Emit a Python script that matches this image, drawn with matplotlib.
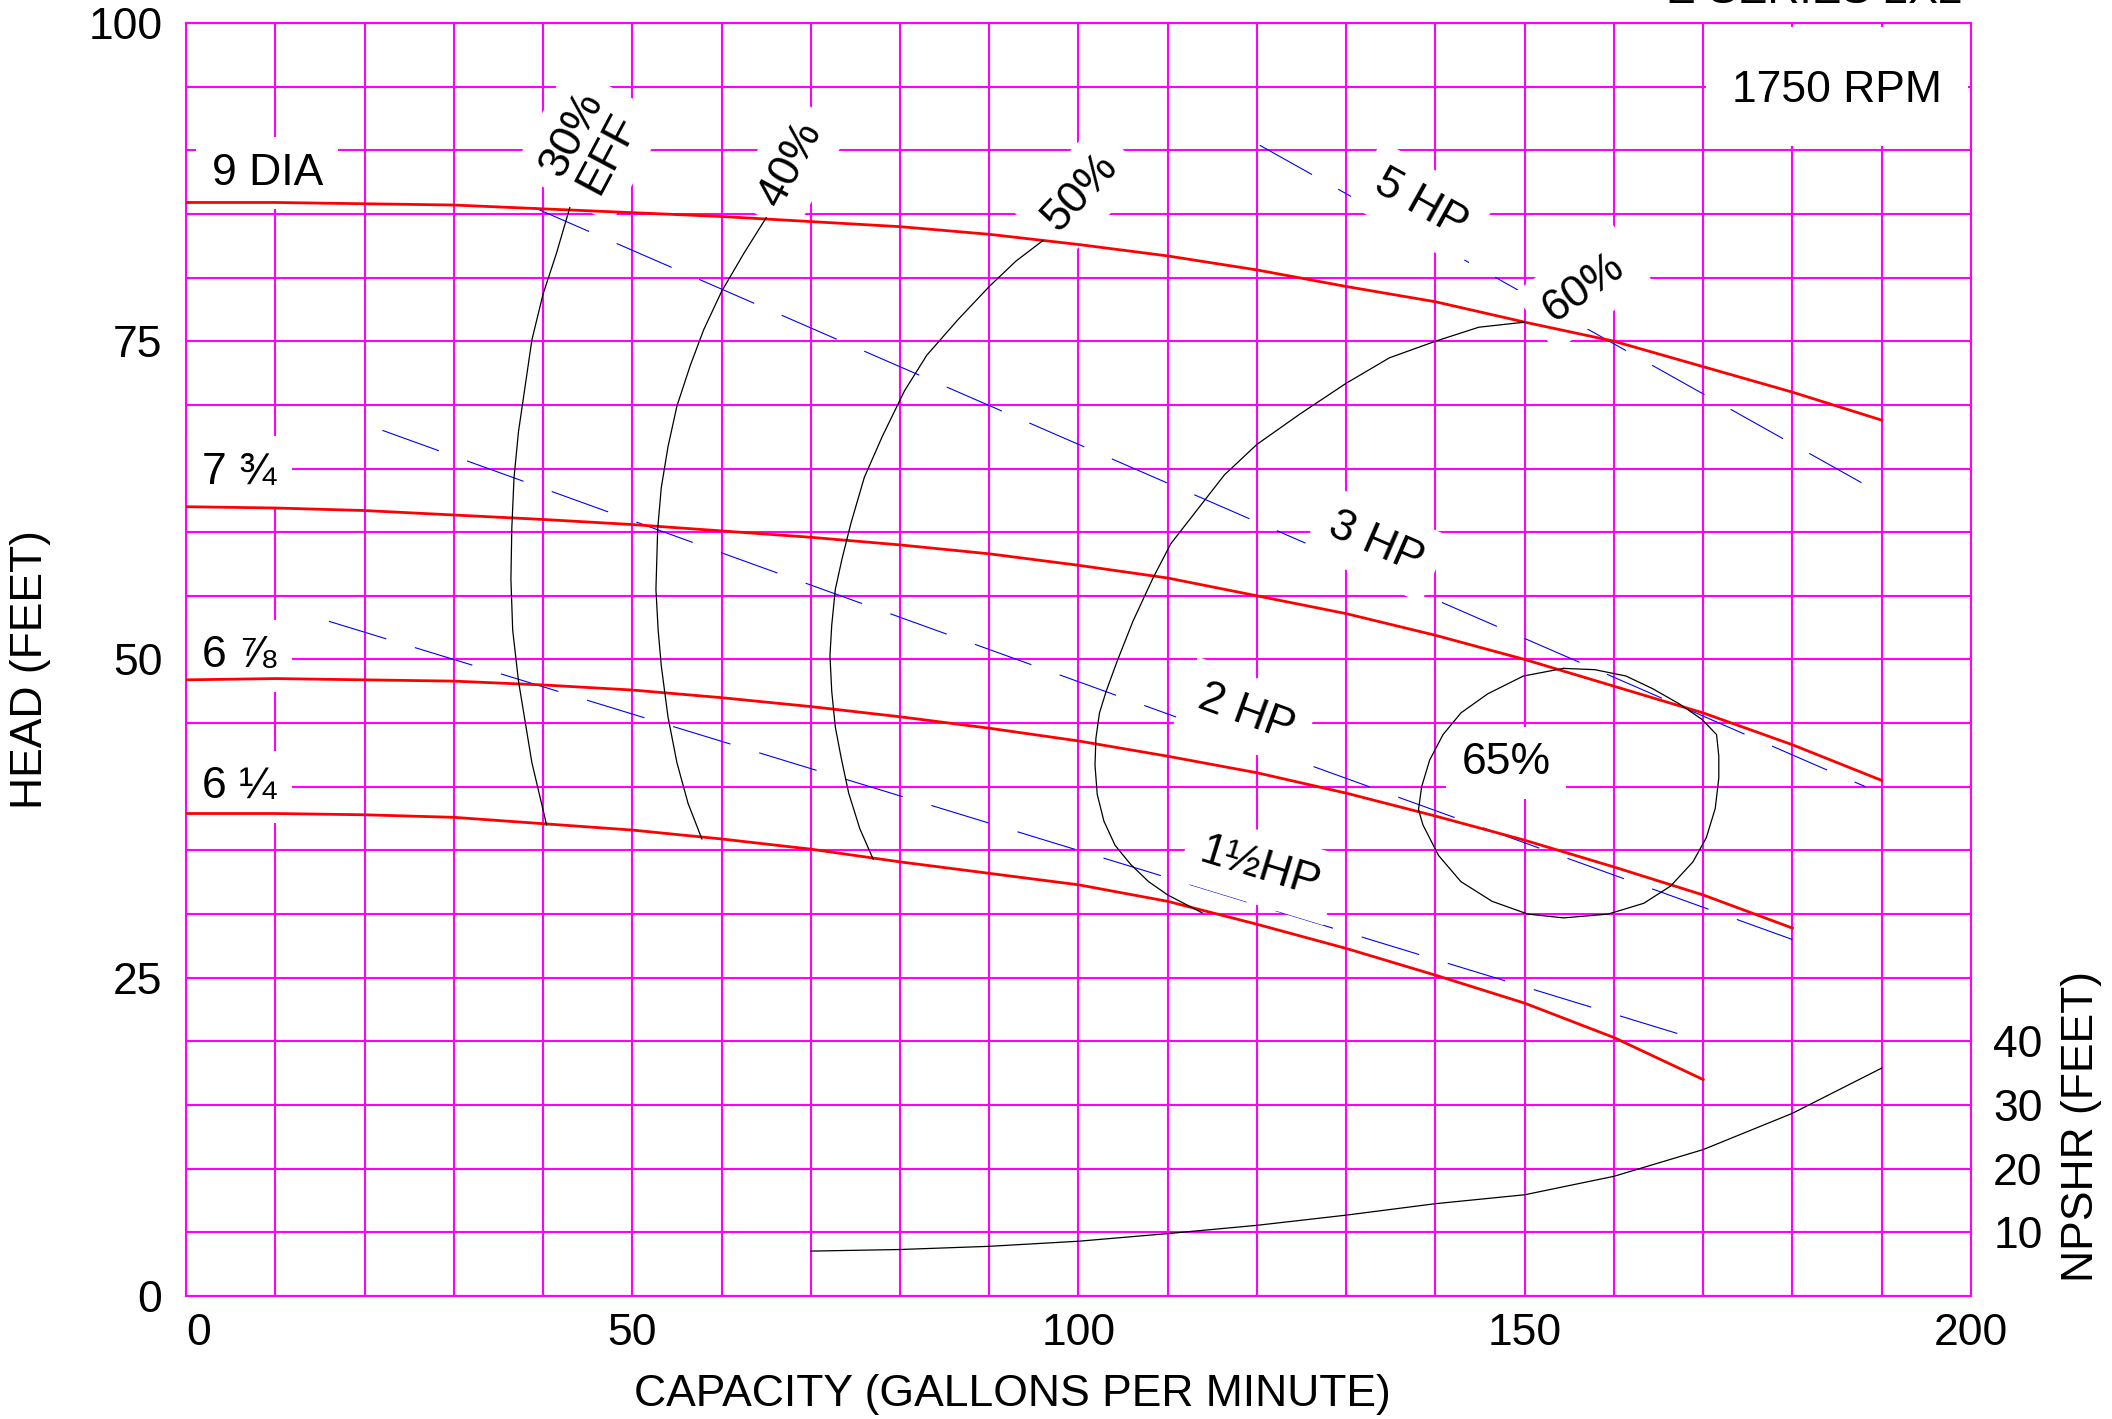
import matplotlib.pyplot as plt
from matplotlib.patches import Rectangle

plt.rcParams['font.family'] = ['Liberation Sans', 'DejaVu Sans']

MAGENTA = '#ff00ff'
FS = 32

# head-capacity curves for each impeller diameter
gpm = [0, 10, 20, 30, 40, 50, 60, 70, 80, 90, 100, 110, 120, 130, 140, 150, 160, 170, 180, 190]
head_9 = [85.9, 85.9, 85.8, 85.7, 85.4, 85.1, 84.8, 84.4, 84.0, 83.4, 82.6, 81.7, 80.6, 79.3,
          78.1, 76.5, 75.0, 73.0, 71.0, 68.8]
head_7_3q = [62.0, 61.9, 61.7, 61.35, 61.0, 60.6, 60.1, 59.6, 59.0, 58.3, 57.4, 56.4, 55.0,
             53.6, 51.9, 50.0, 47.9, 45.8, 43.3, 40.5]
head_6_7e = [48.4, 48.5, 48.4, 48.3, 48.0, 47.6, 47.0, 46.3, 45.5, 44.6, 43.6, 42.4, 41.1,
             39.5, 37.7, 35.8, 33.7, 31.5, 28.9]
head_6_1q = [37.9, 37.9, 37.8, 37.6, 37.1, 36.6, 35.9, 35.1, 34.1, 33.2, 32.3, 31.0, 29.2,
             27.3, 25.2, 23.0, 20.3, 17.0]

# constant horsepower lines (start and end points)
hp5_x, hp5_y = [120.3, 190], [90.4, 63.0]
hp3_x, hp3_y = [39, 188.2], [85.5, 40.0]
hp2_x, hp2_y = [22, 180], [68.0, 28.0]
hp1h_x, hp1h_y = [16, 170], [53.0, 20.0]

# efficiency contours
eff30_x = [43, 41.5, 40, 38.75, 38, 37.25, 36.75, 36.5, 36.4, 36.6, 37.25, 38, 38.75, 40.4]
eff30_y = [85.5, 81.9, 78.7, 75.1, 71.5, 67.9, 64.3, 60.3, 56.3, 52.3, 48.3, 45.1, 41.9, 37.0]
eff40_x = [65, 62.5, 60, 58, 56.5, 55, 54, 53.25, 52.85, 52.65, 52.9, 53.25, 54, 55, 56.25, 57.8]
eff40_y = [84.7, 81.9, 78.9, 75.9, 73.1, 69.9, 66.7, 63.5, 60.3, 55.5, 52.3, 49.5, 45.5, 41.9,
           38.7, 35.9]
eff50_x = [96, 93, 90, 86.5, 83, 80.5, 78, 76, 74.5, 73.5, 72.75, 72.35, 72.15, 72.35, 72.75,
           73.4, 74.25, 75.5, 77]
eff50_y = [82.9, 81.3, 79.3, 76.7, 73.9, 71.1, 67.5, 64.3, 60.7, 57.9, 55.5, 52.7, 50.3, 47.5,
           44.7, 42.3, 39.5, 36.7, 34.3]
eff60_x = [150, 144.85, 140, 134.85, 130, 124.85, 120, 116.35, 113.35, 110.35, 108.35, 106.1,
           104.35, 103.1, 102.35, 101.95, 101.85, 102.1, 102.85, 104.1, 105.85, 107.85, 110,
           113.85]
eff60_y = [76.5, 76.1, 75.0, 73.7, 71.7, 69.3, 66.9, 64.5, 61.8, 59.1, 56.4, 53.0, 49.9, 47.5,
           45.8, 43.8, 41.7, 39.4, 37.3, 35.4, 33.9, 32.55, 31.5, 30.1]
eff65_x = [154.35, 157.85, 161.35, 164.35, 167.35, 169.85, 171.5, 171.75, 171.75, 171.35,
           170.35, 168.85, 166.35, 163.35, 159.35, 154.35, 150.35, 146.35, 142.85, 140.35,
           138.6, 138.1, 138.45, 139.35, 140.85, 142.85, 145.85, 149.85, 154.35]
eff65_y = [49.3, 49.2, 48.7, 47.7, 46.5, 45.3, 44.1, 42.4, 40.7, 38.3, 36.0, 34.1, 32.2,
           30.85, 30.0, 29.7, 30.0, 31.0, 32.55, 34.6, 37.0, 38.2, 40.0, 42.1, 44.1, 45.8,
           47.3, 48.7, 49.3]

# NPSHR curve (feet, right axis)
npshr_gpm = [70, 80, 90, 100, 110, 120, 130, 140, 150, 160, 170, 180, 190]
npshr_ft = [7.05, 7.3, 7.8, 8.6, 9.8, 11.1, 12.7, 14.5, 15.9, 18.8, 23.0, 28.7, 35.8]

fig = plt.figure(figsize=(21.12, 14.19), dpi=100)
ax = fig.add_axes([0.0881, 0.0867, 0.8451, 0.8971])

ax.set_xlim(0, 200)
ax.set_ylim(0, 100)
ax.set_xticks([0, 50, 100, 150, 200])
ax.set_xticks(range(0, 201, 10), minor=True)
ax.set_yticks([0, 25, 50, 75, 100])
ax.set_yticks(range(0, 101, 5), minor=True)
ax.set_axisbelow(True)
ax.grid(True, which='both', color=MAGENTA, lw=1.5)
ax.tick_params(which='both', length=0, labelsize=FS)
ax.tick_params(axis='x', pad=12)
ax.tick_params(axis='y', pad=17)
ax.get_xticklabels()[0].set_ha('left')
for s in ax.spines.values():
    s.set_color(MAGENTA)
    s.set_linewidth(1.5)

# white box behind the speed label
ax.add_patch(Rectangle((170.3, 90.3), 29.4, 9.4, facecolor='white', edgecolor='none', zorder=1))
ax.text(185, 94.7, '1750 RPM', fontsize=FS, ha='center', va='center', zorder=3)

red = dict(color='#ff0000', lw=2.0, zorder=4)
ax.plot(gpm, head_9, **red)
ax.plot(gpm, head_7_3q, **red)
ax.plot(gpm[:len(head_6_7e)], head_6_7e, **red)
ax.plot(gpm[:len(head_6_1q)], head_6_1q, **red)

blue = dict(color='#0000ff', lw=0.8, dashes=(54, 27), zorder=1.5)
ax.plot(hp5_x, hp5_y, **blue)
ax.plot(hp3_x, hp3_y, **blue)
ax.plot(hp2_x, hp2_y, **blue)
ax.plot(hp1h_x, hp1h_y, **blue)

blk = dict(color='black', lw=0.9, zorder=4)
for ex, ey in [(eff30_x, eff30_y), (eff40_x, eff40_y), (eff50_x, eff50_y),
               (eff60_x, eff60_y), (eff65_x, eff65_y)]:
    ax.plot(ex, ey, **blk)

box = dict(boxstyle='square,pad=0.35', facecolor='white', edgecolor='none')
labels = [
    ('9 DIA', 9.1, 88.2, 0),
    ('7 \u00be', 6.0, 64.7, 0),
    ('6 \u215e', 6.0, 50.3, 0),
    ('6 \u00bc', 6.0, 40.0, 0),
    ('30%\nEFF', 45.25, 90.5, 62),
    ('40%', 67.75, 88.9, 62),
    ('50%', 100.25, 86.7, 47),
    ('60%', 156.6, 79.2, 35),
    ('65%', 147.9, 41.9, 0),
    ('5 HP', 138.4, 85.8, -29),
    ('3 HP', 133.35, 59.1, -23.5),
    ('2 HP', 118.85, 45.8, -20),
    ('1\u00bdHP', 120.35, 33.6, -17),
]
for txt, x, y, rot in labels:
    ax.text(x, y, txt, fontsize=FS, ha='center', va='center', rotation=rot,
            linespacing=1.0, bbox=box, zorder=3)

ax.set_xlabel('CAPACITY (GALLONS PER MINUTE)', fontsize=FS)
ax.xaxis.set_label_coords(0.463, -0.061)
ax.set_ylabel('HEAD (FEET)', fontsize=FS)
ax.yaxis.set_label_coords(-0.0756, 0.492)

ax2 = ax.twinx()
ax2.set_ylim(0, 200)
ax2.set_yticks([10, 20, 30, 40])
ax2.tick_params(length=0, labelsize=FS, pad=16)
for s in ax2.spines.values():
    s.set_visible(False)
ax2.plot(npshr_gpm, npshr_ft, color='black', lw=0.9)
ax2.set_ylabel('NPSHR (FEET)', fontsize=FS)
ax2.yaxis.set_label_coords(1.0504, 0.133)

# title at the top is cut off by the page edge
fig.text(0.9295, 1 - 3 / 1419, 'E SERIES 2X2', fontsize=FS, ha='right', va='baseline')

fig.savefig('out.png', dpi=100)
